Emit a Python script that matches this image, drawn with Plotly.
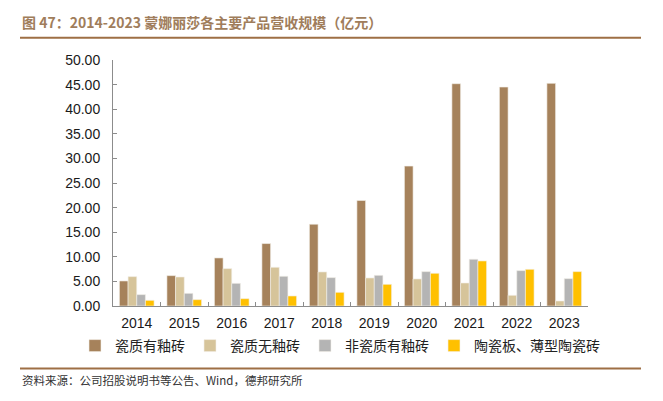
import plotly.graph_objects as go

years = ["2014", "2015", "2016", "2017", "2018", "2019", "2020", "2021", "2022", "2023"]
series_names = ["瓷质有釉砖", "瓷质无釉砖", "非瓷质有釉砖", "陶瓷板、薄型陶瓷砖"]
glazed_porcelain = [5.09, 6.17, 9.77, 12.69, 16.62, 21.44, 28.43, 45.18, 44.50, 45.25]
unglazed_porcelain = [5.97, 5.90, 7.60, 7.87, 6.92, 5.70, 5.50, 4.68, 2.17, 1.02]
glazed_non_porcelain = [2.31, 2.58, 4.61, 6.04, 5.77, 6.24, 6.99, 9.50, 7.19, 5.56]
ceramic_slab = [1.15, 1.29, 1.49, 2.04, 2.78, 4.41, 6.65, 9.16, 7.46, 6.99]
y_ticks = [0, 5, 10, 15, 20, 25, 30, 35, 40, 45, 50]

colors = ["#A6825B", "#D6C49A", "#B4B4B4", "#FFC000"]
values = [glazed_porcelain, unglazed_porcelain, glazed_non_porcelain, ceramic_slab]

# page body has an 8px margin: work in reference pixels and shift by OFF
OFF = 8
W, H = 663 - OFF, 401 - OFF
L, R, T, B = 113 - OFF, 588 - OFF, 60 - OFF, 306 - OFF

def px_x(p):
    return (p - OFF - L) / (R - L)

def px_y(p):
    return (B - (p - OFF)) / (B - T)

fig = go.Figure()
for name, vals, c in zip(series_names, values, colors):
    fig.add_trace(go.Bar(x=years, y=vals, name=name,
                         marker=dict(color=c, line=dict(color="#F4F0EA", width=0.6))))

num_font = "Liberation Sans, Arial, sans-serif"
cjk_font = "Noto Sans CJK SC, sans-serif"

fig.update_layout(
    width=W, height=H,
    margin=dict(l=L, r=W - R, t=T, b=H - B, pad=0, autoexpand=False),
    paper_bgcolor="white", plot_bgcolor="white",
    barmode="group", bargap=0.27, bargroupgap=0,
    showlegend=True,
    legend=dict(orientation="h", xref="paper", yref="paper",
                x=px_x(75), xanchor="left",
                y=px_y(346), yanchor="middle",
                font=dict(family=cjk_font, size=14, color="#222222"),
                itemwidth=30, tracegroupgap=0, traceorder="normal"),
    xaxis=dict(type="category", tickson="boundaries", ticks="inside", ticklen=4,
               tickcolor="#8C8C8C", showline=True, linecolor="#8C8C8C", linewidth=1,
               showgrid=False, ticklabelstandoff=4,
               tickfont=dict(family=num_font, size=14, color="#1A1A1A")),
    yaxis=dict(range=[0, 50], tickmode="array", tickvals=y_ticks, tickformat=".2f",
               ticks="inside", ticklen=4, tickcolor="#8C8C8C", showline=True,
               linecolor="#8C8C8C", linewidth=1, showgrid=False, zeroline=False,
               ticklabelstandoff=9,
               tickfont=dict(family=num_font, size=14, color="#1A1A1A")),
    font=dict(family=num_font),
)

line_color = "#9E6F45"
fig.add_shape(type="line", xref="paper", yref="paper",
              x0=px_x(20), x1=px_x(641), y0=px_y(37.7), y1=px_y(37.7),
              line=dict(color=line_color, width=2))
fig.add_shape(type="line", xref="paper", yref="paper",
              x0=px_x(20), x1=px_x(641), y0=px_y(368.5), y1=px_y(368.5),
              line=dict(color=line_color, width=2))

fig.add_annotation(xref="paper", yref="paper", x=px_x(20), y=px_y(21.5),
                   xanchor="left", yanchor="middle", showarrow=False,
                   text="<b>图 47：2014-2023 蒙娜丽莎各主要产品营收规模（亿元）</b>",
                   font=dict(family=cjk_font, size=14, color="#A07D5B"))
fig.add_annotation(xref="paper", yref="paper", x=px_x(20), y=px_y(380),
                   xanchor="left", yanchor="middle", showarrow=False,
                   text="资料来源：公司招股说明书等公告、Wind，德邦研究所",
                   font=dict(family=cjk_font, size=11.5, color="#333333"))

fig.write_html("out.html")
